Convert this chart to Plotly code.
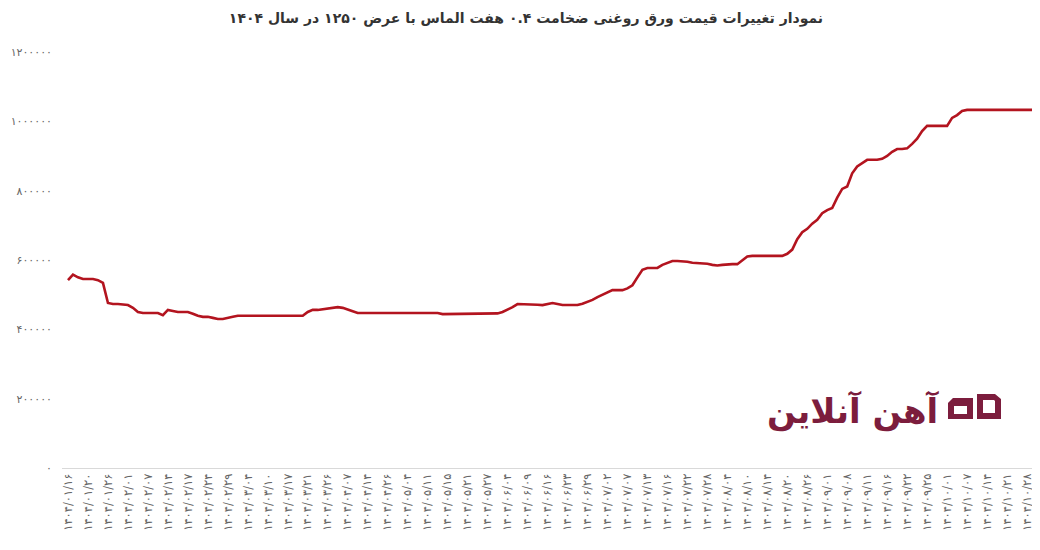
import plotly.graph_objects as go

# ---- data (prices per trading day) ----
prices = [
    542000, 558000, 550000, 545000, 545000, 545000, 542000, 534000, 476000, 473000,
    473000, 472000, 470000, 462000, 450000, 447000, 447000, 447000, 447000, 441000,
    456000, 453000, 450000, 450000, 450000, 445000, 439000, 436000, 436000, 433000,
    430000, 430000, 432000, 436000, 439000, 439000, 439000, 439000, 439000, 439000,
    439000, 439000, 439000, 439000, 439000, 439000, 439000, 439000, 450000, 456000,
    456000, 458000, 462000, 464000, 464000, 462000, 458000, 452000, 447000, 447000,
    447000, 447000, 447000, 447000, 447000, 447000, 447000, 447000, 447000, 447000,
    447000, 447000, 447000, 447000, 447000, 444000, 444000, 444000, 444000, 444000,
    444000, 444000, 444000, 444000, 444000, 444000, 446000, 450000, 456000, 464000,
    473000, 473000, 473000, 473000, 471000, 470000, 473000, 476000, 473000, 470000,
    470000, 470000, 470000, 474000, 479000, 485000, 493000, 500000, 508000, 513000,
    513000, 513000, 518000, 527000, 550000, 572000, 577000, 577000, 577000, 586000,
    591000, 597000, 597000, 597000, 595000, 592000, 591000, 591000, 589000, 586000,
    584000, 586000, 588000, 588000, 588000, 600000, 610000, 612000, 612000, 612000,
    612000, 612000, 612000, 612000, 618000, 630000, 660000, 680000, 690000, 705000,
    716000, 735000, 744000, 750000, 780000, 805000, 812000, 850000, 870000, 880000,
    889000, 889000, 889000, 892000, 900000, 912000, 920000, 920000, 922000, 935000,
    950000, 972000, 987000, 987000, 987000, 987000, 987000, 1010000, 1018000, 1030000,
    1033000, 1033000, 1033000, 1033000, 1033000, 1033000, 1033000, 1033000, 1033000, 1033000,
    1033000, 1033000, 1033000, 1033000,
]

date_labels = [
    "۱۴۰۴/۰۱/۱۶", "۱۴۰۴/۰۱/۲۰", "۱۴۰۴/۰۱/۲۶", "۱۴۰۴/۰۲/۰۱", "۱۴۰۴/۰۲/۰۷",
    "۱۴۰۴/۰۲/۱۴", "۱۴۰۴/۰۲/۱۷", "۱۴۰۴/۰۲/۲۴", "۱۴۰۴/۰۲/۲۹", "۱۴۰۴/۰۳/۰۴",
    "۱۴۰۴/۰۳/۱۰", "۱۴۰۴/۰۳/۱۷", "۱۴۰۴/۰۳/۲۱", "۱۴۰۴/۰۳/۲۶", "۱۴۰۴/۰۴/۰۷",
    "۱۴۰۴/۰۴/۱۴", "۱۴۰۴/۰۴/۲۶", "۱۴۰۴/۰۵/۰۴", "۱۴۰۴/۰۵/۱۱", "۱۴۰۴/۰۵/۱۵",
    "۱۴۰۴/۰۵/۲۱", "۱۴۰۴/۰۵/۲۷", "۱۴۰۴/۰۶/۰۴", "۱۴۰۴/۰۶/۰۹", "۱۴۰۴/۰۶/۱۶",
    "۱۴۰۴/۰۶/۲۳", "۱۴۰۴/۰۶/۲۹", "۱۴۰۴/۰۷/۰۲", "۱۴۰۴/۰۷/۰۷", "۱۴۰۴/۰۷/۱۳",
    "۱۴۰۴/۰۷/۱۶", "۱۴۰۴/۰۷/۲۲", "۱۴۰۴/۰۷/۲۸", "۱۴۰۴/۰۸/۰۴", "۱۴۰۴/۰۸/۱۰",
    "۱۴۰۴/۰۸/۱۴", "۱۴۰۴/۰۸/۲۰", "۱۴۰۴/۰۸/۲۶", "۱۴۰۴/۰۹/۰۱", "۱۴۰۴/۰۹/۰۸",
    "۱۴۰۴/۰۹/۱۱", "۱۴۰۴/۰۹/۱۶", "۱۴۰۴/۰۹/۲۲", "۱۴۰۴/۰۹/۲۵", "۱۴۰۴/۱۰/۰۱",
    "۱۴۰۴/۱۰/۰۷", "۱۴۰۴/۱۰/۱۴", "۱۴۰۴/۱۰/۲۱", "۱۴۰۴/۱۰/۲۸",
]
label_step = 4  # one date label every 4 trading days

y_tick_values = [0, 200000, 400000, 600000, 800000, 1000000, 1200000]
y_tick_labels = ["۰", "۲۰۰۰۰۰", "۴۰۰۰۰۰", "۶۰۰۰۰۰", "۸۰۰۰۰۰", "۱۰۰۰۰۰۰", "۱۲۰۰۰۰۰"]

title_text = "نمودار تغییرات قیمت ورق روغنی ضخامت ۰.۴ هفت الماس با عرض ۱۲۵۰ در سال ۱۴۰۴"
brand_text = "آهن آنلاین"

# ---- figure ----
# the page body adds an 8px margin, so the figure is 8px smaller and offset
OFF = 8
W, H = 1040 - OFF, 550 - OFF
ML, MR, MT, MB = 62 - OFF, 0, 52 - OFF, 82
x_idx = list(range(len(prices)))
tick_positions = [i * label_step for i in range(len(date_labels))]

fig = go.Figure()
fig.add_trace(go.Scatter(
    x=x_idx, y=prices, mode="lines",
    line=dict(color="#b3141f", width=2.6),
    hoverinfo="skip", showlegend=False,
))

PW, PH = W - ML - MR, H - MT - MB

def px2paper(px, py):
    # px, py are page pixel coordinates
    return (px - OFF - ML) / PW, (H - MB - (py - OFF)) / PH

def path(points_list):
    d = ""
    for pts in points_list:
        for k, (px, py) in enumerate(pts):
            x, y = px2paper(px, py)
            d += ("M" if k == 0 else "L") + f"{x:.5f},{y:.5f}"
        d += "Z"
    return d

logo_col = "#7c1d3d"
fig.add_shape(type="path", xref="paper", yref="paper", fillrule="evenodd",
              path=path([[(953, 398), (973, 398), (973, 419), (948, 419), (948, 403)],
                         [(954, 406), (967, 406), (967, 414), (954, 414)]]),
              fillcolor=logo_col, line=dict(width=0))
fig.add_shape(type="path", xref="paper", yref="paper", fillrule="evenodd",
              path=path([[(977, 394), (995, 394), (1001, 399), (1001, 419), (977, 419)],
                         [(983, 400), (994, 400), (995, 401), (995, 413), (983, 413)]]),
              fillcolor=logo_col, line=dict(width=0))

bx, by = px2paper(942, 411)
fig.add_annotation(x=bx, y=by, xref="paper", yref="paper", xanchor="right", yanchor="middle",
                   text=f"<b>{brand_text}</b>", showarrow=False,
                   font=dict(family="DejaVu Sans", size=34, color=logo_col))

fig.update_layout(
    width=W, height=H,
    margin=dict(l=ML, r=MR, t=MT, b=MB),
    paper_bgcolor="white", plot_bgcolor="white",
    title=dict(text=title_text, x=518 / W, xref="container", xanchor="center",
               y=1 - 10 / H, yanchor="middle",
               font=dict(family="DejaVu Sans", size=14, color="#333333", weight="bold")),
    xaxis=dict(range=[-1.2, 194.6], tickmode="array", tickvals=tick_positions,
               ticktext=date_labels, tickangle=-90, showgrid=False, zeroline=False,
               showline=True, linecolor="#d9d9d9", linewidth=1, ticks="",
               automargin=False,
               tickfont=dict(family="DejaVu Sans", size=11.5, color="#666666")),
    yaxis=dict(range=[0, 1200000], tickmode="array", tickvals=y_tick_values,
               ticktext=y_tick_labels, showgrid=False, zeroline=False, showline=False,
               ticks="", ticklabelstandoff=9, automargin=False,
               tickfont=dict(family="DejaVu Sans", size=11, color="#666666")),
)

fig.write_html("out.html")
